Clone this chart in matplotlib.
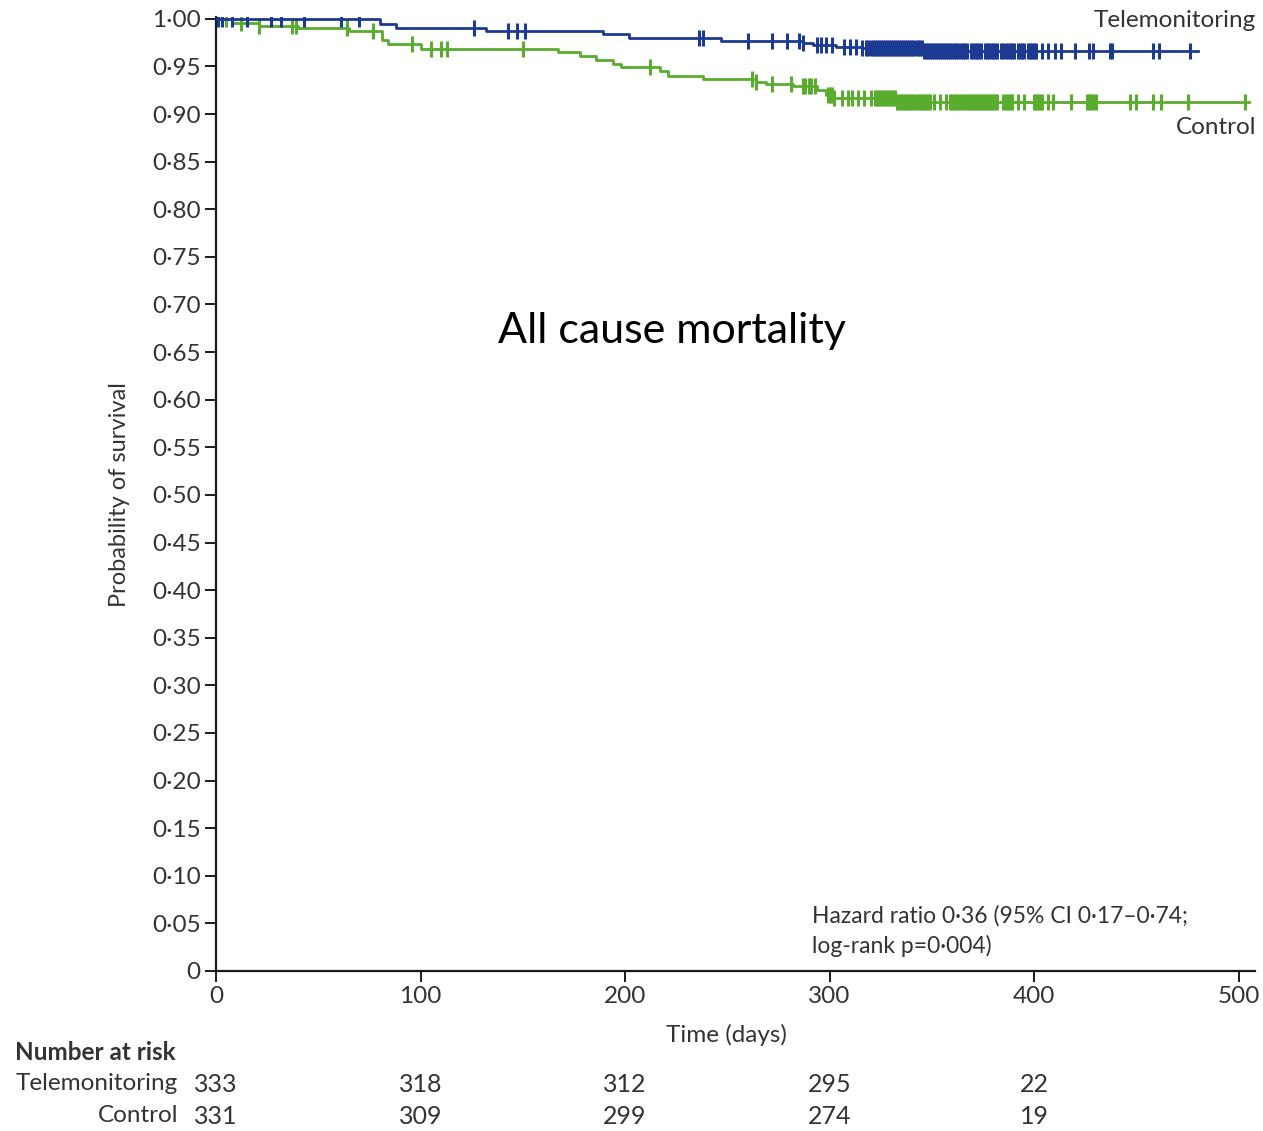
import matplotlib
matplotlib.use("Agg")
import matplotlib.pyplot as plt
import matplotlib.transforms as mtransforms

# Kaplan-Meier steps (time in days, survival after the step)
tele_times = [0, 80, 88, 132, 189, 202, 247, 287, 292, 303, 316, 346, 480]
tele_surv = [1.000, 0.995, 0.990, 0.987, 0.984, 0.980, 0.977, 0.975, 0.973, 0.970, 0.969, 0.966, 0.966]

ctrl_times = [0, 8, 21, 40, 65, 81, 84, 100, 167, 178, 186, 194, 198, 217, 221,
              238, 264, 269, 282, 294, 298, 302, 333, 505]
ctrl_surv = [1.000, 0.996, 0.992, 0.990, 0.987, 0.978, 0.974, 0.968, 0.965, 0.961, 0.957,
             0.953, 0.949, 0.945, 0.940, 0.937, 0.934, 0.932, 0.929, 0.925, 0.920, 0.917,
             0.913, 0.913]

# censoring ticks
tele_censor = [1, 3, 8, 15, 27, 32, 43, 61, 70, 126, 143, 147, 151, 236, 238, 260, 272,
               279, 285, 287, 294, 296, 298, 301, 307, 310, 313, 316,
               318, 319, 320, 321, 322, 323, 324, 325, 326, 327, 328, 329, 330, 331,
               332, 333, 334, 335, 336, 337, 338, 339, 340, 341, 342, 343, 344, 345,
               346, 347, 348, 349, 350, 351, 352, 353, 354, 355, 356, 357, 358, 359,
               360, 361, 362, 363, 364, 365, 366, 367, 369, 370, 371, 372, 373, 374,
               376, 377, 378, 379, 380, 381, 382, 384, 385, 386, 387, 388, 389, 390,
               392, 393, 394, 395, 397, 398, 399, 400, 401,
               404, 407, 410, 413, 420, 427, 429, 437, 438, 458, 461, 476]

ctrl_censor = [5, 12, 21, 37, 39, 64, 77, 96, 105, 110, 113, 150, 212, 262, 264, 272, 281,
               287, 288, 290, 291, 293, 299, 300, 301, 302, 306, 309, 311, 314, 317, 320,
               322, 323, 324, 325, 326, 327, 328, 329, 330, 331, 332, 333, 334, 335,
               336, 337, 338, 339, 340, 341, 342, 343, 344, 345, 346, 347, 348, 349,
               351, 354, 357, 359, 360, 361, 362, 363, 364, 365, 366, 367, 368, 369,
               370, 371, 372, 373, 374, 375, 376, 377, 378, 379, 380, 381, 382,
               385, 386, 387, 388, 389, 392, 395, 400, 401, 402, 403, 404, 407, 409,
               418, 426, 427, 428, 429, 430, 447, 450, 458, 462, 475, 503]

risk_times = [0, 100, 200, 300, 400]
tele_risk = [333, 318, 312, 295, 22]
ctrl_risk = [331, 309, 299, 274, 19]

yticks = [0, 0.05, 0.10, 0.15, 0.20, 0.25, 0.30, 0.35, 0.40, 0.45, 0.50,
          0.55, 0.60, 0.65, 0.70, 0.75, 0.80, 0.85, 0.90, 0.95, 1.00]
xticks = [0, 100, 200, 300, 400, 500]

blue = '#1d3a92'
green = '#5aac2e'
txt = '#333333'
fam = ['Lato', 'DejaVu Sans']
plt.rcParams['font.family'] = fam


def surv_at(t, times, surv):
    s = surv[0]
    for tt, ss in zip(times, surv):
        if tt <= t:
            s = ss
    return s


fig = plt.figure(figsize=(12.63, 11.31), dpi=100)
ax = fig.add_axes([0.1710, 0.1415, 0.8227, 0.8435])

ax.step(ctrl_times, ctrl_surv, where='post', color=green, lw=2.0, zorder=2)
ax.step(tele_times, tele_surv, where='post', color=blue, lw=2.0, zorder=3)
ax.plot(ctrl_censor, [surv_at(t, ctrl_times, ctrl_surv) for t in ctrl_censor],
        ls='none', marker='|', ms=12, mew=2.2, color=green, zorder=2)
ax.plot(tele_censor, [surv_at(t, tele_times, tele_surv) for t in tele_censor],
        ls='none', marker='|', ms=12, mew=2.2, color=blue, zorder=3)

ax.set_xlim(0, 508)
ax.set_ylim(0, 1.002)
ax.spines['top'].set_visible(False)
ax.spines['right'].set_visible(False)
for s in ['left', 'bottom']:
    ax.spines[s].set_linewidth(1.6)
    ax.spines[s].set_color('#1a1a1a')

ax.set_yticks(yticks)
ax.set_yticklabels(['0' if v == 0 else ('%.2f' % v).replace('.', '\u00b7') for v in yticks])
ax.set_xticks(xticks)
ax.set_xticklabels([str(v) for v in xticks])
ax.tick_params(axis='y', length=8, width=1.4, pad=3, labelsize=17.5, labelcolor=txt, color='#1a1a1a')
ax.tick_params(axis='x', length=8, width=1.4, pad=3, labelsize=17.5, labelcolor=txt, color='#1a1a1a')

fig.text(0.095, 0.5623, 'Probability of survival', rotation=90, ha='center', va='center',
         fontsize=17, color=txt)
fig.text(0.575, 0.0849, 'Time (days)', ha='center', va='center', fontsize=17.5, color=txt)

fig.text(0.9945, 0.9823, 'Telemonitoring', ha='right', va='center', fontsize=17.5, color=txt)
fig.text(0.9945, 0.8877, 'Control', ha='right', va='center', fontsize=17.5, color=txt)

fig.text(0.532, 0.7073, 'All cause mortality', ha='center', va='center', fontsize=31,
         color='black', family=['Lato', 'DejaVu Sans'])

ax.text(291.5, 0.0578, 'Hazard ratio 0\u00b736 (95% CI 0\u00b717\u20130\u00b774;',
        ha='left', va='center', fontsize=16.5, color=txt)
ax.text(291.5, 0.0263, 'log-rank p=0\u00b7004)', ha='left', va='center', fontsize=16.5, color=txt)

# number at risk table
trans = mtransforms.blended_transform_factory(ax.transData, fig.transFigure)
fig.text(15 / 1263, 1 - 1052 / 1131, 'Number at risk', ha='left', va='center',
         fontsize=17.5, fontweight='bold', color=txt)
fig.text(178 / 1263, 1 - 1084 / 1131, 'Telemonitoring', ha='right', va='center', fontsize=17.5, color=txt)
fig.text(178 / 1263, 1 - 1116 / 1131, 'Control', ha='right', va='center', fontsize=17.5, color=txt)
for t, a, b in zip(risk_times, tele_risk, ctrl_risk):
    ax.text(t, 1 - 1084 / 1131, str(a), transform=trans, ha='center', va='center',
            fontsize=18, color=txt, clip_on=False)
    ax.text(t, 1 - 1116 / 1131, str(b), transform=trans, ha='center', va='center',
            fontsize=18, color=txt, clip_on=False)

fig.savefig('out.png', dpi=100)
